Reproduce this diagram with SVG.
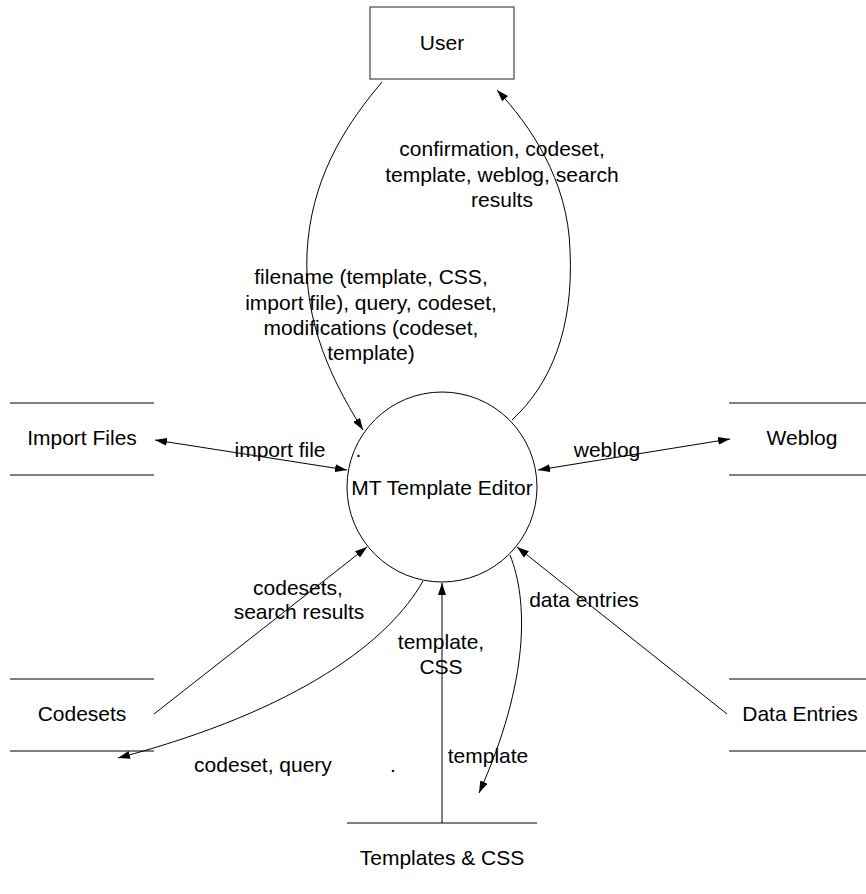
<svg xmlns="http://www.w3.org/2000/svg" width="866" height="894" viewBox="0 0 866 894">
<style>
text{font-family:"Liberation Sans",Arial,sans-serif;font-size:21px;fill:#000}
.c{text-anchor:middle}
.box{fill:#fff;stroke:#555;stroke-width:1.3}
.store{stroke:#555;stroke-width:1.3;fill:none}
.proc{fill:#fff;stroke:#000;stroke-width:1}
.conn{fill:none;stroke:#000;stroke-width:1}
</style>
<defs>
<marker id="ah" viewBox="0 0 12 8" refX="12" refY="4" markerWidth="12" markerHeight="8" markerUnits="userSpaceOnUse" orient="auto-start-reverse">
<path d="M0,0 L12,4 L0,8 z" fill="#000"/>
</marker>
</defs>
<rect width="866" height="894" fill="#fff"/>
<g id="user">
<rect class="box" x="370" y="7" width="144" height="72"/>
<text class="c" x="442" y="50">User</text>
</g>
<g id="editor">
<circle class="proc" cx="442" cy="487" r="95"/>
<text class="c" x="442" y="495">MT Template Editor</text>
</g>
<g id="import-files">
<line class="store" x1="10" y1="403" x2="154" y2="403"/>
<line class="store" x1="10" y1="475" x2="154" y2="475"/>
<text class="c" x="82" y="445">Import Files</text>
</g>
<g id="weblog">
<line class="store" x1="729" y1="403" x2="866" y2="403"/>
<line class="store" x1="729" y1="475" x2="866" y2="475"/>
<text class="c" x="802" y="445">Weblog</text>
</g>
<g id="codesets">
<line class="store" x1="10" y1="679" x2="154" y2="679"/>
<line class="store" x1="10" y1="751" x2="154" y2="751"/>
<text class="c" x="82" y="721">Codesets</text>
</g>
<g id="data-entries">
<line class="store" x1="729" y1="679" x2="866" y2="679"/>
<line class="store" x1="729" y1="751" x2="866" y2="751"/>
<text class="c" x="800" y="721">Data Entries</text>
</g>
<g id="templates">
<line class="store" x1="347" y1="823" x2="537" y2="823"/>
<text class="c" x="442" y="865">Templates &amp; CSS</text>
</g>
<g id="connectors">
<path class="conn" d="M382,82 C350,120 315,170 308,240 C301,310 325,370 363,430" marker-end="url(#ah)"/>
<path class="conn" d="M512,420 C550,385 574,330 570,250 C568,180 530,125 497,90" marker-end="url(#ah)"/>
<line class="conn" x1="155" y1="440" x2="347" y2="470" marker-start="url(#ah)" marker-end="url(#ah)"/>
<line class="conn" x1="538" y1="470" x2="730" y2="439" marker-start="url(#ah)" marker-end="url(#ah)"/>
<line class="conn" x1="154" y1="714" x2="367" y2="547" marker-end="url(#ah)"/>
<path class="conn" d="M423,581 C390,640 300,710 118,758" marker-end="url(#ah)"/>
<line class="conn" x1="442" y1="823" x2="442" y2="583" marker-end="url(#ah)"/>
<path class="conn" d="M510,555 C528,600 530,680 479,793" marker-end="url(#ah)"/>
<line class="conn" x1="727" y1="714" x2="517" y2="547" marker-end="url(#ah)"/>
<g id="labels">
<text class="c" x="502" y="156">confirmation, codeset,</text>
<text class="c" x="502" y="181.5">template, weblog, search</text>
<text class="c" x="502" y="207">results</text>
<text class="c" x="371" y="284">filename (template, CSS,</text>
<text class="c" x="371" y="309.5">import file), query, codeset,</text>
<text class="c" x="371" y="335">modifications (codeset,</text>
<text class="c" x="371" y="360">template)</text>
<text class="c" x="280" y="457">import file</text>
<text x="355.5" y="457">.</text>
<text class="c" x="607" y="457">weblog</text>
<text class="c" x="298" y="595">codesets,</text>
<text class="c" x="299" y="619">search results</text>
<text class="c" x="263" y="772">codeset, query</text>
<text x="390" y="772">.</text>
<text class="c" x="441" y="649">template,</text>
<text class="c" x="441" y="674">CSS</text>
<text class="c" x="488" y="763">template</text>
<text class="c" x="584" y="607">data entries</text>
</g>
</g>
</svg>
